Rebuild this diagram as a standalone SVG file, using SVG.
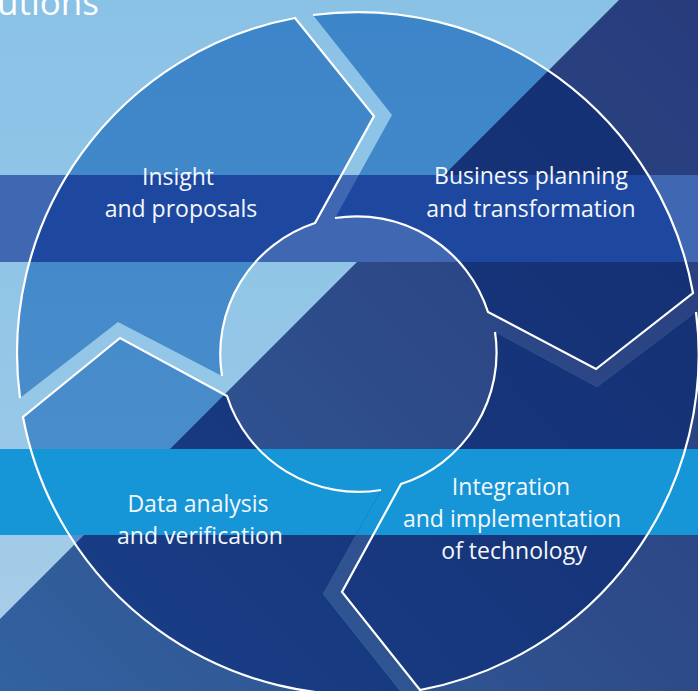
<svg xmlns="http://www.w3.org/2000/svg" xmlns:xlink="http://www.w3.org/1999/xlink" width="698" height="691" viewBox="0 0 698 691">
  <style>
    .outline { fill: none; stroke: #ffffff; stroke-width: 2.2; stroke-linejoin: miter; }
    .label { font-family: "Open Sans", "Noto Sans", "Liberation Sans", sans-serif; font-size: 23px; fill: #f4f7fb; text-anchor: middle; }
    .title { font-family: "Open Sans", "Noto Sans", "Liberation Sans", sans-serif; font-size: 35px; fill: #ffffff; }
  </style>
  <defs>
    <linearGradient id="lightBg" gradientUnits="userSpaceOnUse" x1="0" y1="0" x2="0" y2="691">
      <stop offset="0" stop-color="#8ac2e6"/>
      <stop offset="0.58" stop-color="#95c7e7"/>
      <stop offset="1" stop-color="#aecfe8"/>
    </linearGradient>
    <linearGradient id="darkBg" gradientUnits="userSpaceOnUse" x1="698" y1="0" x2="0" y2="691">
      <stop offset="0" stop-color="#273b7b"/>
      <stop offset="0.5" stop-color="#2e4b89"/>
      <stop offset="1" stop-color="#3262a0"/>
    </linearGradient>
    <linearGradient id="lightRing" gradientUnits="userSpaceOnUse" x1="0" y1="0" x2="0" y2="691">
      <stop offset="0" stop-color="#3c85c8"/>
      <stop offset="0.58" stop-color="#488ccb"/>
      <stop offset="1" stop-color="#5894cc"/>
    </linearGradient>
    <linearGradient id="darkRing" gradientUnits="userSpaceOnUse" x1="698" y1="0" x2="0" y2="691">
      <stop offset="0" stop-color="#152f72"/>
      <stop offset="0.5" stop-color="#16357b"/>
      <stop offset="1" stop-color="#1a4089"/>
    </linearGradient>
    <g id="ringFill">
      <rect x="0" y="0" width="698" height="691" fill="url(#lightRing)"/>
      <polygon points="619,0 698,0 698,691 -72,691" fill="url(#darkRing)"/>
      <rect x="0" y="175" width="698" height="87" fill="#1e48a0"/>
      <rect x="0" y="449" width="698" height="86" fill="#1696d6"/>
    </g>
    <clipPath id="clipInsight">
      <path d="M20,398 A341,341 0 0 1 295,18 L374,116 L315,223 A138,138 0 0 0 222,376 L118,322 Z"/>
    </clipPath>
    <clipPath id="clipBusiness">
      <path d="M313,15 A341,341 0 0 1 693,293 L596,369 L488,312 A138,138 0 0 0 335,218 L392,115 Z"/>
    </clipPath>
    <clipPath id="clipIntegration">
      <path d="M696,312 A341,341 0 0 1 420,690 L342,592 L401,484 A138,138 0 0 0 495,332 L597,387 Z"/>
    </clipPath>
    <clipPath id="clipData">
      <path d="M401,692 A341,341 0 0 1 23,417 L120,338 L227,396 A138,138 0 0 0 381,490 L323,594 Z"/>
    </clipPath>
  </defs>

  <g id="background">
    <rect x="0" y="0" width="698" height="691" fill="url(#lightBg)"/>
    <polygon points="619,0 698,0 698,691 -72,691" fill="url(#darkBg)"/>
    <rect x="0" y="175" width="698" height="87" fill="#3f67b2"/>
    <rect x="0" y="449" width="698" height="86" fill="#1696d6"/>
    <text class="title" x="-3" y="15">utions</text>
  </g>

  <g id="insight">
    <g clip-path="url(#clipInsight)"><use xlink:href="#ringFill" href="#ringFill"/></g>
    <path class="outline" d="M20,398 A341,341 0 0 1 295,18 L374,116 L315,223 A138,138 0 0 0 222,376"/>
    <text class="label" x="178" y="185">Insight</text>
    <text class="label" x="181" y="217">and proposals</text>
  </g>

  <g id="business">
    <g clip-path="url(#clipBusiness)"><use xlink:href="#ringFill" href="#ringFill"/></g>
    <path class="outline" d="M313,15 A341,341 0 0 1 693,293 L596,369 L488,312 A138,138 0 0 0 335,218"/>
    <text class="label" x="531" y="184">Business planning</text>
    <text class="label" x="531" y="217">and transformation</text>
  </g>

  <g id="integration">
    <g clip-path="url(#clipIntegration)"><use xlink:href="#ringFill" href="#ringFill"/></g>
    <path class="outline" d="M696,312 A341,341 0 0 1 420,690 L342,592 L401,484 A138,138 0 0 0 495,332"/>
    <text class="label" x="511" y="495">Integration</text>
    <text class="label" x="512" y="527">and implementation</text>
    <text class="label" x="514" y="559">of technology</text>
  </g>

  <g id="data">
    <g clip-path="url(#clipData)"><use xlink:href="#ringFill" href="#ringFill"/></g>
    <path class="outline" d="M401,692 A341,341 0 0 1 23,417 L120,338 L227,396 A138,138 0 0 0 381,490"/>
    <text class="label" x="198" y="512">Data analysis</text>
    <text class="label" x="200" y="544">and verification</text>
  </g>
</svg>
